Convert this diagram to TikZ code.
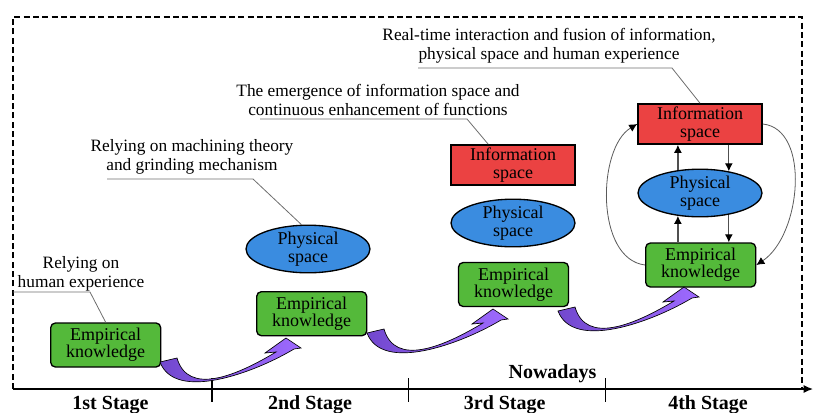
\documentclass[tikz,border=0pt]{standalone}
\usepackage{fontspec}
\setmainfont{Liberation Serif}
\usetikzlibrary{shapes}
\usetikzlibrary{arrows.meta}

\begin{document}
\begin{tikzpicture}[x=0.75pt,y=0.75pt,yscale=-1,xscale=1,
  knowbox/.style={draw, line width=1pt, rounded corners=3.5pt, fill={rgb, 255:red, 84; green, 185; blue, 58 }, minimum width=82.5pt, minimum height=33pt, inner sep=0pt, align=center, font=\fontsize{13.5}{13}\selectfont},
  infobox/.style={draw, line width=1.2pt, fill={rgb, 255:red, 235; green, 66; blue, 66 }, minimum width=93pt, minimum height=30pt, inner sep=0pt, align=center, font=\fontsize{13.5}{13}\selectfont},
  physell/.style={draw, line width=1pt, ellipse, fill={rgb, 255:red, 58; green, 140; blue, 224 }, minimum width=93pt, minimum height=35pt, inner sep=0pt, align=center, font=\fontsize{13.5}{13}\selectfont},
  callnote/.style={align=center, inner sep=0pt, font=\fontsize{13}{14.5}\selectfont},
  callline/.style={draw={rgb, 255:red, 110; green, 110; blue, 110 }, line width=0.6pt},
  flowline/.style={draw={rgb, 255:red, 80; green, 80; blue, 80 }, line width=0.9pt, -{Latex[length=6pt,width=6pt,black]}},
  loopline/.style={draw={rgb, 255:red, 90; green, 90; blue, 90 }, line width=0.6pt, -{Latex[length=6pt,width=6pt,black]}},
  stagelabel/.style={anchor=base, inner sep=0pt, font=\fontsize{15}{18}\selectfont\bfseries},
  framedash/.style={line width=1pt, dash pattern=on 4.5pt off 2.5pt},
  axisline/.style={line width=1pt, -{Latex[length=7pt,width=6pt]}},
  stagearrow/.pic={
    \draw [line width=0.5pt, left color={rgb, 255:red, 114; green, 72; blue, 206 }, right color={rgb, 255:red, 158; green, 106; blue, 255 }] (0,0) -- (17,4) .. controls (28,-34) and (76,-14) .. (116,10) -- (105,9) -- (126,24) -- (141,14) -- (134,13) .. controls (94,-11) and (15,-40) .. (0,0) -- cycle ;
  }
]
\useasboundingbox (0,0) rectangle (814,412);

%Straight Lines [frame]
\draw [framedash] (13,389) -- (13,17) -- (802,17) -- (802,389) ;
%Straight Lines [time axis]
\coordinate (axstart) at (13,389);
\coordinate (axend) at (813,389);
\draw [axisline] (axstart) -- (axend) ;
\draw [line width=0.8pt] (212,378) -- (212,402) ;
\draw [line width=0.8pt] (408.5,378) -- (408.5,402) ;
\draw [line width=0.8pt] (605.5,378) -- (605.5,402) ;

%Shape: Rounded Rect
\node [knowbox] (ek1) at (105.7,345) {Empirical\\knowledge};
\node [knowbox] (ek2) at (311.7,313.7) {Empirical\\knowledge};
\node [knowbox] (ek3) at (513.5,284.5) {Empirical\\knowledge};
\node [knowbox] (ek4) at (700.7,265) {Empirical\\knowledge};
%Shape: Ellipse
\node [physell] (ps2) at (308,249) {Physical\\space};
\node [physell] (ps3) at (513,223) {Physical\\space};
\node [physell] (ps4) at (700,193) {Physical\\space};
%Shape: Rectangle
\node [infobox] (is3) at (513,165) {Information\\space};
\node [infobox] (is4) at (700,124) {Information\\space};

% Text Node
\node [callnote] (note1) at (81,274) {Relying on\\human experience};
\node [callnote] (note2) at (192,157) {Relying on machining theory\\and grinding mechanism};
\node [callnote] (note3) at (378,100) {The emergence of information space and\\continuous enhancement of functions};
\node [callnote] (note4) at (549,45.5) {Real-time interaction and fusion of information,\\physical space and human experience};

%Straight Lines [callouts]
\coordinate (n1a) at (13,292);
\coordinate (n1b) at (90,292);
\draw [callline] (n1a) -- (n1b) -- (ek1.north) ;
\coordinate (n2a) at (107,179);
\coordinate (n2b) at (253,179);
\draw [callline] (n2a) -- (n2b) -- (ps2.105) ;
\coordinate (n3a) at (260,119);
\coordinate (n3b) at (467,119);
\draw [callline] (n3a) -- (n3b) -- (is3.140) ;
\coordinate (n4a) at (418,68);
\coordinate (n4b) at (672,68);
\draw [callline] (n4a) -- (n4b) -- (is4.north) ;

%Straight Lines [4th stage]
\draw [flowline] (ps4.134) -- (ps4.134 |- is4.south) ;
\draw [flowline] (is4.south -| ps4.37) -- (ps4.37) ;
\draw [flowline] (ps4.-134 |- ek4.north) -- (ps4.-134) ;
\draw [flowline] (ps4.-37) -- (ps4.-37 |- ek4.north) ;
%Curve Lines
\draw [loopline] (ek4.west) .. controls +(-50,-6) and +(-40,24) .. (is4.west) ;
\draw [loopline] (is4.east) .. controls +(48,5) and +(45,-30) .. (ek4.east) ;

%Shape: Curved Up Arrow
\pic at (160,362) {stagearrow};
\pic at (367,333) {stagearrow};
\pic at (558,311) {stagearrow};

% Text Node
\node [stagelabel] (stg1) at (110.5,409) {1st Stage};
\node [stagelabel] (stg2) at (310,409) {2nd Stage};
\node [stagelabel] (stg3) at (504.7,409) {3rd Stage};
\node [stagelabel] (stg4) at (708,409) {4th Stage};
\node [stagelabel] (nowlabel) at (552.5,378) {Nowadays};

\end{tikzpicture}
\end{document}
